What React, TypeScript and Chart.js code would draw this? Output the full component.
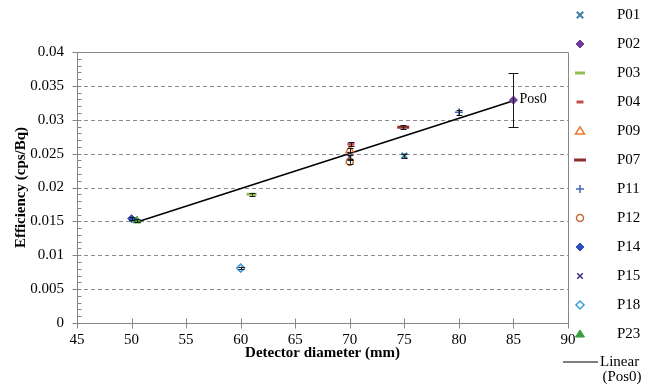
import { useEffect, useRef } from "react";
import { Chart, registerables } from "chart.js";
Chart.register(...registerables);

const seriesNames = ["P01", "P02", "P03", "P04", "P09", "P07", "P11", "P12", "P14", "P15", "P18", "P23"];
const diameters = [75, 85, 61, 70.1, 70, 74.9, 80, 70, 50, 70, 60, 50.5];
const efficiencies = [0.0247, 0.0329, 0.019, 0.0264, 0.0255, 0.0289, 0.0311, 0.0238, 0.0154, 0.0245, 0.0081, 0.0151];
const errors = [0.0003, 0.004, 0.0002, 0.0003, 0.0003, 0.0003, 0.0004, 0.0003, 0.0002, 0.0003, 0.0002, 0.0002];
const fitX = [50.5, 85];
const fitY = [0.0149, 0.0328];
const xTickValues = [45, 50, 55, 60, 65, 70, 75, 80, 85, 90];
const yTickValues = [0, 0.005, 0.01, 0.015, 0.02, 0.025, 0.03, 0.035, 0.04];
const dataLabel = "Pos0";
const fitName = ["Linear", "(Pos0)"];

type MStyle = { shape: string; color: string; fill: boolean; r: number; bw: number };
const markerStyles: MStyle[] = [
  { shape: "crossRot", color: "#3f7fa6", fill: false, r: 4, bw: 2 },
  { shape: "rectRot", color: "#6c3d9e", fill: true, r: 4, bw: 1 },
  { shape: "line", color: "#92c050", fill: false, r: 5, bw: 3 },
  { shape: "line", color: "#c0504d", fill: false, r: 3.5, bw: 3 },
  { shape: "triangle", color: "#e87a2e", fill: false, r: 4.5, bw: 1.5 },
  { shape: "line", color: "#8e2f2c", fill: false, r: 6, bw: 3 },
  { shape: "cross", color: "#4a66b8", fill: false, r: 4, bw: 1.5 },
  { shape: "circle", color: "#c06a30", fill: false, r: 3.5, bw: 1.5 },
  { shape: "rectRot", color: "#2f4fbf", fill: true, r: 4, bw: 1 },
  { shape: "crossRot", color: "#3b2f80", fill: false, r: 3.5, bw: 1.5 },
  { shape: "rectRot", color: "#3f9be0", fill: false, r: 4, bw: 1.5 },
  { shape: "triangle", color: "#3a9f3a", fill: true, r: 4.5, bw: 1 },
];

const FONT = "'Liberation Serif', 'Times New Roman', serif";
const AXIS_COLOR = "#868686";
const W = 648;
const H = 378;

function drawMarker(ctx: CanvasRenderingContext2D, m: MStyle, x: number, y: number) {
  const r = m.r;
  ctx.save();
  ctx.strokeStyle = m.color;
  ctx.fillStyle = m.color;
  ctx.lineWidth = m.bw;
  ctx.beginPath();
  if (m.shape === "crossRot") {
    ctx.moveTo(x - r * 0.8, y - r * 0.8); ctx.lineTo(x + r * 0.8, y + r * 0.8);
    ctx.moveTo(x + r * 0.8, y - r * 0.8); ctx.lineTo(x - r * 0.8, y + r * 0.8);
    ctx.stroke();
  } else if (m.shape === "cross") {
    ctx.moveTo(x - r, y); ctx.lineTo(x + r, y);
    ctx.moveTo(x, y - r); ctx.lineTo(x, y + r);
    ctx.stroke();
  } else if (m.shape === "line") {
    ctx.moveTo(x - r, y); ctx.lineTo(x + r, y);
    ctx.stroke();
  } else if (m.shape === "rectRot") {
    ctx.moveTo(x, y - r); ctx.lineTo(x + r, y); ctx.lineTo(x, y + r); ctx.lineTo(x - r, y); ctx.closePath();
    if (m.fill) ctx.fill(); else { ctx.fillStyle = "#fff"; ctx.fill(); }
    ctx.stroke();
  } else if (m.shape === "triangle") {
    const h = r * 1.5;
    ctx.moveTo(x, y - h * 0.6); ctx.lineTo(x + r, y + h * 0.45); ctx.lineTo(x - r, y + h * 0.45); ctx.closePath();
    if (m.fill) ctx.fill(); else { ctx.fillStyle = "#fff"; ctx.fill(); }
    ctx.stroke();
  } else if (m.shape === "circle") {
    ctx.arc(x, y, r, 0, Math.PI * 2);
    ctx.fillStyle = "#fff"; ctx.fill();
    ctx.stroke();
  }
  ctx.restore();
}

const decorPlugin = {
  id: "decor",
  beforeDatasetsDraw(chart: any) {
    const ctx: CanvasRenderingContext2D = chart.ctx;
    const xs = chart.scales.x;
    const ys = chart.scales.y;
    const { left, right, top, bottom } = chart.chartArea;
    ctx.save();
    ctx.strokeStyle = "#8c8c8c";
    ctx.lineWidth = 1;
    ctx.setLineDash([4, 3]);
    yTickValues.forEach((v) => {
      if (v === 0 || v === 0.04) return;
      const py = Math.round(ys.getPixelForValue(v)) + 0.5;
      ctx.beginPath(); ctx.moveTo(left, py); ctx.lineTo(right, py); ctx.stroke();
    });
    ctx.setLineDash([]);
    ctx.strokeStyle = AXIS_COLOR;
    ctx.lineWidth = 1;
    const L = Math.round(left) + 0.5, R = Math.round(right) + 0.5, T = Math.round(top) + 0.5, B = Math.round(bottom) + 0.5;
    ctx.beginPath();
    ctx.moveTo(L, T); ctx.lineTo(R, T); ctx.lineTo(R, B); ctx.lineTo(L, B); ctx.closePath();
    ctx.stroke();
    ctx.beginPath();
    yTickValues.forEach((v) => {
      const py = Math.round(ys.getPixelForValue(v)) + 0.5;
      ctx.moveTo(L - 5, py); ctx.lineTo(L + 4, py);
    });
    for (let k = 0; k <= 40; k++) {
      if (k % 5 === 0) continue;
      const py = Math.round(ys.getPixelForValue(k * 0.001)) + 0.5;
      ctx.moveTo(L, py); ctx.lineTo(L + 4, py);
    }
    xTickValues.forEach((v) => {
      const px = Math.round(xs.getPixelForValue(v)) + 0.5;
      ctx.moveTo(px, B - 5); ctx.lineTo(px, B + 5);
    });
    ctx.stroke();
    ctx.restore();
  },
  afterDatasetsDraw(chart: any) {
    const ctx: CanvasRenderingContext2D = chart.ctx;
    const xs = chart.scales.x;
    const ys = chart.scales.y;
    ctx.save();
    ctx.strokeStyle = "#1a1a1a";
    ctx.lineWidth = 1;
    diameters.forEach((d, i) => {
      const px = Math.round(xs.getPixelForValue(d)) + 0.5;
      const y1 = ys.getPixelForValue(efficiencies[i] + errors[i]);
      const y2 = ys.getPixelForValue(efficiencies[i] - errors[i]);
      const cap = errors[i] > 0.001 ? 5 : 3;
      ctx.beginPath();
      ctx.moveTo(px, y1); ctx.lineTo(px, y2);
      ctx.moveTo(px - cap, Math.round(y1) + 0.5); ctx.lineTo(px + cap, Math.round(y1) + 0.5);
      ctx.moveTo(px - cap, Math.round(y2) + 0.5); ctx.lineTo(px + cap, Math.round(y2) + 0.5);
      ctx.stroke();
    });
    const i2 = 1;
    ctx.fillStyle = "#000";
    ctx.font = `14px ${FONT}`;
    ctx.textBaseline = "middle";
    ctx.textAlign = "left";
    ctx.fillText(dataLabel, xs.getPixelForValue(diameters[i2]) + 6, ys.getPixelForValue(efficiencies[i2]) - 1);
    ctx.restore();
  },
  afterDraw(chart: any) {
    const ctx: CanvasRenderingContext2D = chart.ctx;
    const { left, right, top, bottom } = chart.chartArea;
    ctx.save();
    ctx.fillStyle = "#000";
    ctx.font = `bold 15px ${FONT}`;
    ctx.textAlign = "center";
    ctx.textBaseline = "middle";
    ctx.fillText("Detector diameter (mm)", (left + right) / 2, 345);
    ctx.save();
    ctx.translate(13, (top + bottom) / 2);
    ctx.rotate(-Math.PI / 2);
    ctx.fillText("Efficiency (cps/Bq)", 0, 0);
    ctx.restore();
    ctx.font = `15px ${FONT}`;
    ctx.textAlign = "left";
    seriesNames.forEach((n, i) => {
      const y = 7 + i * 29;
      drawMarker(ctx, markerStyles[i], 572, y);
      ctx.fillStyle = "#000";
      ctx.fillText(n, 609, y);
    });
    const ly = 354;
    ctx.strokeStyle = "#000";
    ctx.lineWidth = 1.2;
    ctx.beginPath(); ctx.moveTo(555, ly); ctx.lineTo(590, ly); ctx.stroke();
    ctx.fillText(fitName[0], 592, ly);
    ctx.textAlign = "center";
    ctx.fillText(fitName[1], 614, ly + 15);
    ctx.restore();
  },
};

export default function App() {
  const ref = useRef<HTMLCanvasElement>(null);
  useEffect(() => {
    if (!ref.current) return;
    const datasets: any[] = seriesNames.map((n, i) => {
      const m = markerStyles[i];
      return {
        label: n,
        data: [{ x: diameters[i], y: efficiencies[i] }],
        pointStyle: m.shape,
        pointRadius: m.r,
        pointBorderWidth: m.bw,
        borderColor: m.color,
        backgroundColor: m.fill ? m.color : "#ffffff",
        showLine: false,
      };
    });
    datasets.push({
      label: "Linear (Pos0)",
      type: "line",
      data: fitX.map((x, i) => ({ x, y: fitY[i] })),
      borderColor: "#000",
      borderWidth: 1.5,
      pointRadius: 0,
      showLine: true,
      fill: false,
    });
    const chart = new Chart(ref.current, {
      type: "scatter",
      data: { datasets },
      plugins: [decorPlugin],
      options: {
        animation: false,
        responsive: false,
        layout: { padding: { left: 0, top: 44, right: W - 560, bottom: 0 } },
        plugins: { legend: { display: false }, tooltip: { enabled: false } },
        scales: {
          x: {
            type: "linear",
            min: 45,
            max: 90,
            afterBuildTicks: (s: any) => { s.ticks = xTickValues.map((v) => ({ value: v })); },
            ticks: { color: "#000", font: { family: FONT, size: 15 }, padding: 8, maxRotation: 0 },
            grid: { display: false, drawTicks: false },
            border: { display: false },
            afterFit: (s: any) => { s.height = H - 315; },
          },
          y: {
            type: "linear",
            min: 0,
            max: 0.04,
            afterBuildTicks: (s: any) => { s.ticks = yTickValues.map((v) => ({ value: v })); },
            ticks: {
              color: "#000",
              font: { family: FONT, size: 15 },
              padding: 13,
              callback: (v: any) => String(parseFloat(Number(v).toFixed(3))),
            },
            grid: { display: false, drawTicks: false },
            border: { display: false },
            afterFit: (s: any) => { s.width = 69; },
          },
        },
      },
    });
    return () => chart.destroy();
  }, []);
  return (
    <div style={{ position: "fixed", left: 8, top: 8, width: W, height: H }}>
      <canvas ref={ref} width={W} height={H} />
    </div>
  );
}
